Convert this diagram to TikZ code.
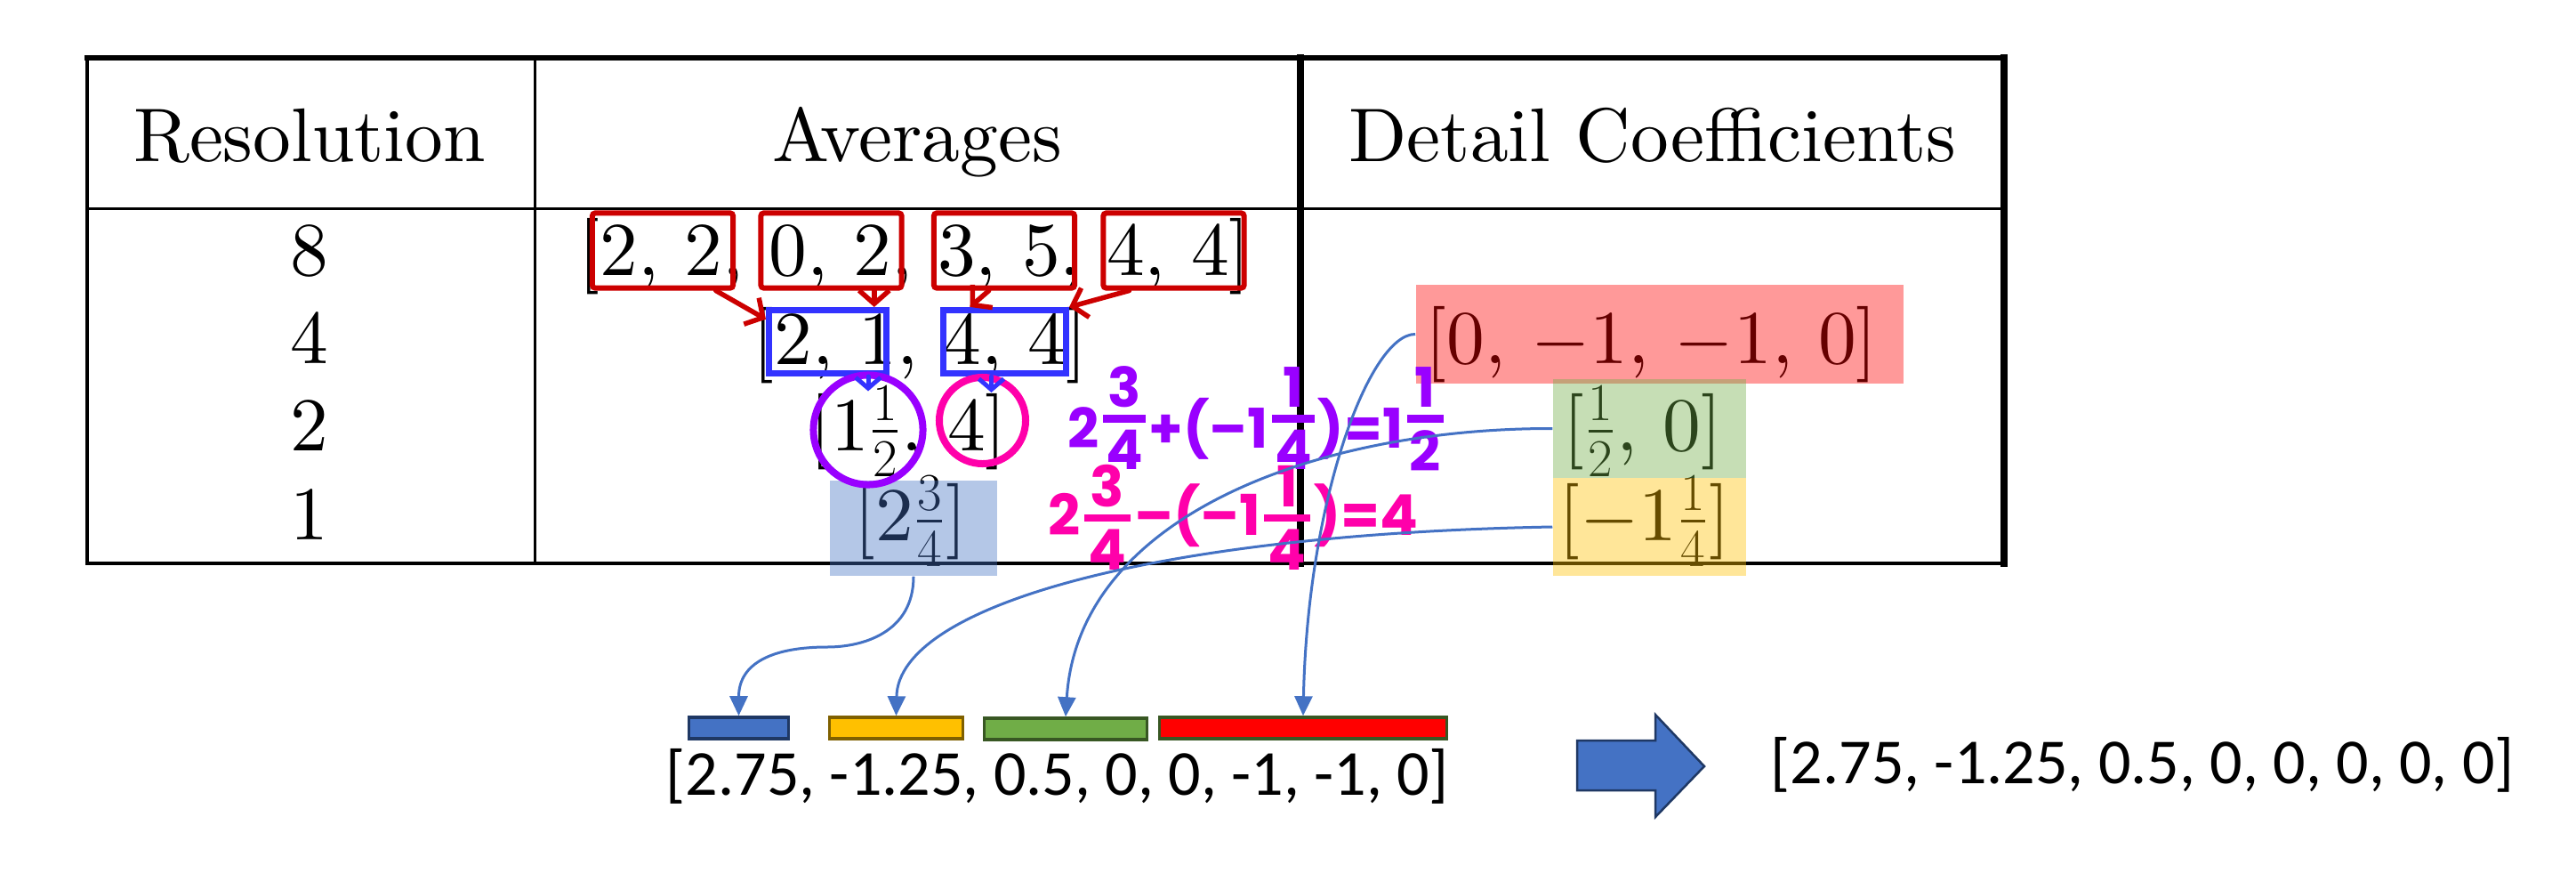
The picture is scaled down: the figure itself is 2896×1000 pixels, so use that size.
\documentclass[tikz,border=0pt]{standalone}
\usepackage{fix-cm}
\usepackage{amsmath}
\usepackage{fontspec}
\usepackage{tikz}
\usetikzlibrary{arrows.meta}

\setmainfont{lmroman10-regular.otf}
\newfontfamily\barfont{Carlito}
\newfontfamily\handfont{Poppins}

\definecolor{boxred}{RGB}{204,0,0}
\definecolor{boxblue}{RGB}{51,51,255}
\definecolor{penpurple}{RGB}{153,0,255}
\definecolor{penpink}{RGB}{255,0,170}
\definecolor{offblue}{RGB}{68,114,196}
\definecolor{offgold}{RGB}{255,192,0}
\definecolor{offgreen}{RGB}{112,173,71}
\definecolor{offred}{RGB}{255,0,0}
\definecolor{barnavy}{RGB}{31,56,100}
\definecolor{barbrown}{RGB}{127,96,0}
\definecolor{bargreen}{RGB}{56,87,35}

\newlength\hwpad
\setlength\hwpad{0.045cm}
\newcommand\hwfrac[3][0.12cm]{\raisebox{#1}{$\genfrac{}{}{0.085cm}{}{\hbox{\kern\hwpad#2\kern\hwpad}}{\hbox{\kern\hwpad#3\kern\hwpad}}$}}

\begin{document}
\begin{tikzpicture}[x=0.01cm, y=-0.01cm,
    cell/.style={inner sep=0pt, font=\fontsize{24.3}{29}\selectfont},
    tabline/.style={line width=#1, line cap=rect},
    redbox/.style={draw=boxred, line width=0.06cm, rounded corners=0.03cm, minimum width=1.58cm, minimum height=0.84cm, inner sep=0pt},
    bluebox/.style={draw=boxblue, line width=0.07cm, minimum height=0.71cm, inner sep=0pt},
    redarrow/.style={draw=boxred, line width=0.055cm, line cap=round, -{Straight Barb[length=1.5mm, width=3.4mm]}},
    smallarrow/.style={draw=boxblue, line width=0.05cm, line cap=round, -{Straight Barb[length=1.2mm, width=2.8mm]}},
    penring/.style={draw=#1, line width=0.08cm, circle, inner sep=0pt},
    hilite/.style={fill=#1, fill opacity=0.4, inner sep=0pt},
    barbox/.style={line width=0.035cm, minimum height=0.24cm, inner sep=0pt},
    link/.style={draw=offblue, line width=0.03cm, -{Triangle[length=2.2mm, width=2mm]}},
    hand/.style={inner sep=0pt, font=\handfont\bfseries\fontsize{#1}{20}\selectfont},
    vecfont/.style={inner sep=0pt, font=\barfont\fontsize{20.5}{24}\selectfont}]

    \useasboundingbox (0,0) rectangle (2896,1000);

    % table
    \draw[tabline=0.066cm] (98,65) -- (2253,65);
    \draw[tabline=0.04cm] (98,65) -- (98,633);
    \draw[tabline=0.03cm] (601,65) -- (601,633);
    \draw[tabline=0.075cm] (1462,65) -- (1462,633);
    \draw[tabline=0.072cm] (2253,65) -- (2253,633);
    \draw[tabline=0.03cm] (98,234) -- (2253,234);
    \draw[tabline=0.045cm] (98,633) -- (2253,633);

    \node[cell, anchor=base] (hres) at (348,181) {Resolution};
    \node[cell, anchor=base] (havg) at (1031,181) {Averages};
    \node[cell, anchor=base] (hdet) at (1858,181) {Detail Coefficients};

    \node[cell, anchor=base] (l8) at (348,309) {8};
    \node[cell, anchor=base] (l4) at (348,408) {4};
    \node[cell, anchor=base] (l2) at (348,506) {2};
    \node[cell, anchor=base] (l1) at (348,606) {1};

    \node[cell, anchor=base west] (a8) at (650,309) {[2, 2, 0, 2, 3, 5, 4, 4]};
    \node[cell, anchor=base west] (a4) at (846,409) {[2, 1, 4, 4]};
    \node[cell, anchor=base west] (a2) at (910,506) {[1$\frac{1}{2}$, 4]};
    \node[cell, anchor=base west] (a1) at (960,607) {[2$\frac{3}{4}$]};

    \node[cell, anchor=base west] (d4) at (1602,408) {[0, $-$1, $-$1, 0]};
    \node[cell, anchor=base west] (d2) at (1757,506) {[$\frac{1}{2}$, 0]};
    \node[cell, anchor=base west] (d1) at (1752,607) {[$-$1$\frac{1}{4}$]};

    % highlights
    \node[hilite=offblue, minimum width=1.88cm, minimum height=1.07cm] (h1) at (1027,593.5) {};
    \node[hilite=offred, minimum width=5.48cm, minimum height=1.11cm] (hr) at (1866,375.5) {};
    \node[hilite=offgreen, minimum width=2.17cm, minimum height=1.11cm] (hg) at (1854.5,481.5) {};
    \node[hilite=offgold, minimum width=2.17cm, minimum height=1.10cm] (hy) at (1854.5,592) {};

    % boxes and rings
    \node[redbox] (r1) at (745,281.5) {};
    \node[redbox] (r2) at (934.5,281.5) {};
    \node[redbox] (r3) at (1129,281.5) {};
    \node[redbox] (r4) at (1319.5,281.5) {};
    \node[bluebox, minimum width=1.32cm] (b1) at (930.5,384) {};
    \node[bluebox, minimum width=1.38cm] (b2) at (1129.5,384) {};
    \node[penring=penpurple, minimum size=1.23cm] (p1) at (976,483) {};
    \node[penring=penpink, minimum size=0.97cm] (p2) at (1104.5,472.5) {};

    \draw[redarrow] (r1.-37) -- (b1.160);
    \draw[redarrow] (r2.-43) -- (r2.-43 |- b1.north);
    \draw[redarrow] (r3.-111) -- (b2.135);
    \draw[redarrow] (r4.-138) -- (b2.north east);
    \draw[smallarrow] (p1.north |- b1.south) -- ([yshift=-0.22cm]p1.north);
    \draw[smallarrow] ([xshift=0.1cm]p2.north |- b2.south) -- ([xshift=0.1cm, yshift=-0.21cm]p2.north);

    % handwriting
    \node[hand=17.5, text=penpurple, anchor=base west] (eqsum) at (1200,503)
        {\setlength\hwpad{0.03cm}2\hwfrac[0.17cm]{3}{4}+(–1\hwfrac[0.17cm]{1}{4})=1\hwfrac[0.17cm]{1}{2}};
    \node[hand=18, text=penpink, anchor=base west] (eqdiff) at (1178,601)
        {2\hwfrac[0.03cm]{3}{4}–(–1\hwfrac[0.03cm]{1}{4})=4};

    % coefficient bars
    \node[barbox, draw=barnavy, fill=offblue, minimum width=1.115cm] (bb) at (830.5,818) {};
    \node[barbox, draw=barbrown, fill=offgold, minimum width=1.495cm] (yb) at (1007.5,818) {};
    \node[barbox, draw=bargreen, fill=offgreen, minimum width=1.825cm] (gb) at (1198,819) {};
    \node[barbox, draw=bargreen, fill=offred, minimum width=3.225cm] (rb) at (1465,818) {};

    \node[vecfont, anchor=base west] (v1) at (748,893) {[2.75, -1.25, 0.5, 0, 0, -1, -1, 0]};
    \node[vecfont, anchor=base west] (v2) at (1990,880) {[2.75, -1.25, 0.5, 0, 0, 0, 0, 0]};
    \draw[fill=offblue, draw=barnavy, line width=0.025cm] (1773,832) -- (1861,832) -- (1861,803)
        -- (1916,861) -- (1861,918) -- (1861,888) -- (1773,888) -- cycle;

    % links
    \coordinate (bend) at (930,727);
    \draw[link] (h1.south) .. controls +(0,63) and +(40,0) .. (bend)
        .. controls +(-60,0) and +(0,-60) .. (bb.north);
    \draw[link] (hy.west) .. controls (1300,600) and (1010,680) .. (yb.north);
    \draw[link] (hg.west) .. controls (1480,481) and (1212,580) .. (gb.north);
    \draw[link] (hr.west) .. controls (1540,375) and (1470,560) .. (rb.north);

\end{tikzpicture}
\end{document}
